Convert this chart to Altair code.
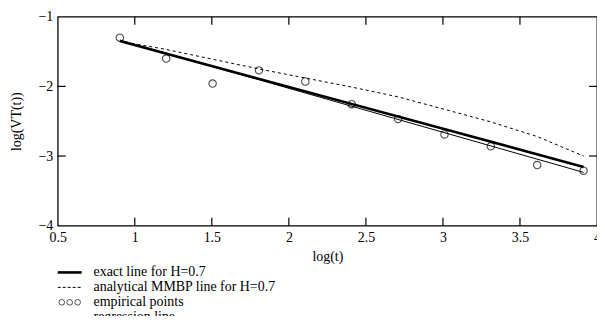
import altair as alt
import pandas as pd

# ---- data ----
log_t = [0.903, 1.204, 1.505, 1.806, 2.107, 2.408, 2.709, 3.010, 3.311, 3.612, 3.913]
empirical = [-1.30, -1.60, -1.96, -1.77, -1.93, -2.255, -2.47, -2.69, -2.86, -3.13, -3.21]
mmbp = [-1.35, -1.47, -1.61, -1.75, -1.88, -2.01, -2.15, -2.33, -2.51, -2.72, -3.00]
exact_x = [0.903, 3.913]
exact_y = [-1.35, -3.156]
regr_x = [0.903, 3.913]
regr_y = [-1.335, -3.235]

x_ticks = [1, 1.5, 2, 2.5, 3, 3.5]
y_ticks = [-2, -3]
legend_labels = ["exact line for H=0.7", "analytical MMBP line for H=0.7",
                 "empirical points", "regression line"]

W, H = 542, 210
FONT = "Liberation Serif"
FS = 14

xs = alt.Scale(domain=[0.5, 4], nice=False, zero=False)
ys = alt.Scale(domain=[-4, -1], nice=False, zero=False)

xaxis = alt.Axis(values=[0.5, 1, 1.5, 2, 2.5, 3, 3.5, 4], format="~g", tickSize=0, domain=False,
                 grid=False, labelPadding=5, title="log(t)", titleX=W / 2, titleY=31,
                 titleBaseline="middle", labelFlush=False)
yaxis = alt.Axis(values=[-1, -2, -3, -4], format="d", tickSize=0, domain=False, grid=False,
                 labelPadding=5, title="log(VT(t))", titleX=-41, titleY=H / 2,
                 titleAngle=270, titleBaseline="middle", titleAlign="center",
                 labelFlush=False)

pts = pd.DataFrame({"x": log_t, "y": empirical, "m": mmbp})
ex = pd.DataFrame({"x": exact_x, "y": exact_y})
rg = pd.DataFrame({"x": regr_x, "y": regr_y})

base_axes = alt.Chart(pts).mark_point(opacity=0).encode(
    x=alt.X("x:Q", scale=xs, axis=xaxis),
    y=alt.Y("y:Q", scale=ys, axis=yaxis),
)

mmbp_line = alt.Chart(pts).mark_line(color="black", strokeWidth=1, strokeDash=[3, 3]).encode(
    x=alt.X("x:Q", scale=xs), y=alt.Y("m:Q", scale=ys))
exact_line = alt.Chart(ex).mark_line(color="black", strokeWidth=2.6).encode(
    x=alt.X("x:Q", scale=xs), y=alt.Y("y:Q", scale=ys))
regr_line = alt.Chart(rg).mark_line(color="black", strokeWidth=1).encode(
    x=alt.X("x:Q", scale=xs), y=alt.Y("y:Q", scale=ys))
points = alt.Chart(pts).mark_point(shape="circle", filled=False, color="black",
                                   size=55, strokeWidth=1.1).encode(
    x=alt.X("x:Q", scale=xs), y=alt.Y("y:Q", scale=ys))

# inward ticks on all four sides
xt = pd.DataFrame({"v": x_ticks})
yt = pd.DataFrame({"v": y_ticks})
tick_b = alt.Chart(xt).mark_rule(color="black", strokeWidth=1.2).encode(
    x=alt.X("v:Q", scale=xs), y=alt.value(H), y2=alt.value(H - 8))
tick_t = alt.Chart(xt).mark_rule(color="black", strokeWidth=1.2).encode(
    x=alt.X("v:Q", scale=xs), y=alt.value(0), y2=alt.value(8))
tick_l = alt.Chart(yt).mark_rule(color="black", strokeWidth=1.2).encode(
    y=alt.Y("v:Q", scale=ys), x=alt.value(0), x2=alt.value(8))
tick_r = alt.Chart(yt).mark_rule(color="black", strokeWidth=1.2).encode(
    y=alt.Y("v:Q", scale=ys), x=alt.value(W), x2=alt.value(W - 8))

# manual legend below the plot
row_y = [257, 272, 287, 302]
one = pd.DataFrame({"a": [0]})
legend_layers = []
for i, lab in enumerate(legend_labels):
    legend_layers.append(
        alt.Chart(pd.DataFrame({"t": [lab]})).mark_text(
            align="left", baseline="middle", font=FONT, fontSize=FS, color="black"
        ).encode(x=alt.value(36), y=alt.value(row_y[i]), text="t:N"))
legend_layers.append(alt.Chart(one).mark_rule(color="black", strokeWidth=2.6).encode(
    x=alt.value(0), x2=alt.value(24), y=alt.value(row_y[0])))
legend_layers.append(alt.Chart(one).mark_rule(color="black", strokeWidth=1, strokeDash=[3, 2]).encode(
    x=alt.value(0), x2=alt.value(24), y=alt.value(row_y[1])))
for cx in [4, 12, 20]:
    legend_layers.append(alt.Chart(one).mark_point(shape="circle", filled=False, color="black",
                                                   size=32, strokeWidth=1).encode(
        x=alt.value(cx), y=alt.value(row_y[2])))
legend_layers.append(alt.Chart(one).mark_rule(color="black", strokeWidth=1).encode(
    x=alt.value(0), x2=alt.value(24), y=alt.value(row_y[3])))

chart = alt.layer(
    base_axes, mmbp_line, exact_line, regr_line, points,
    tick_b, tick_t, tick_l, tick_r, *legend_layers
).properties(
    width=W, height=H,
    autosize=alt.AutoSizeParams(type="none"),
    padding={"left": 50, "top": 8, "right": 0, "bottom": 90},
).configure_view(
    stroke="black", strokeWidth=1.3
).configure_axis(
    labelFont=FONT, labelFontSize=FS, labelColor="black",
    titleFont=FONT, titleFontSize=FS, titleColor="black", titleFontWeight="normal",
)

chart.save("out.html", embed_options={"renderer": "svg", "actions": False})
